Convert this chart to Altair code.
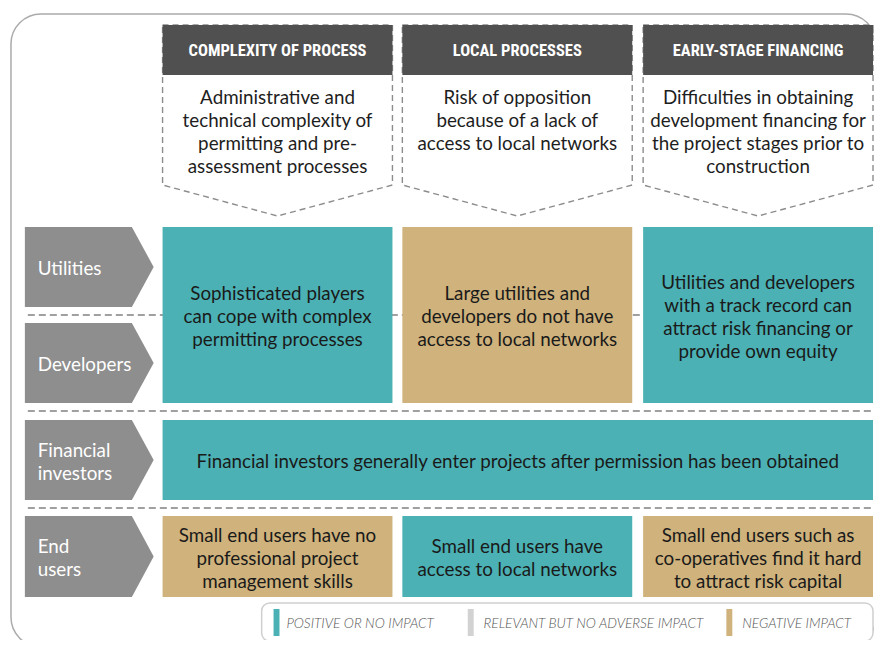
import altair as alt
import pandas as pd

# ---------------- data ----------------
columns = ["COMPLEXITY OF PROCESS", "LOCAL PROCESSES", "EARLY-STAGE FINANCING"]
descriptions = [
    ["Administrative and", "technical complexity of", "permitting and pre-", "assessment processes"],
    ["Risk of opposition", "because of a lack of", "access to local networks"],
    ["Difficulties in obtaining", "development financing for", "the project stages prior to", "construction"],
]
actors = [["Utilities"], ["Developers"], ["Financial", "investors"], ["End", "users"]]

cell_rows = ["utildev", "utildev", "utildev", "fin", "end", "end", "end"]
cell_cols = [(0, 0), (1, 1), (2, 2), (0, 2), (0, 0), (1, 1), (2, 2)]
cell_impacts = ["positive", "negative", "positive", "positive", "negative", "positive", "negative"]
cell_texts = [
    ["Sophisticated players", "can cope with complex", "permitting processes"],
    ["Large utilities and", "developers do not have", "access to local networks"],
    ["Utilities and developers", "with a track record can", "attract risk financing or", "provide own equity"],
    ["Financial investors generally enter projects after permission has been obtained"],
    ["Small end users have no", "professional project", "management skills"],
    ["Small end users have", "access to local networks"],
    ["Small end users such as", "co-operatives find it hard", "to attract risk capital"],
]
impact_keys = ["positive", "relevant", "negative"]
impact_labels = ["POSITIVE OR NO IMPACT", "RELEVANT BUT NO ADVERSE IMPACT", "NEGATIVE IMPACT"]

# ---------------- layout & style ----------------
TEAL, TAN, LIGHT = "#4BB1B4", "#CFB27C", "#D2D2D2"
impact_colors = [TEAL, LIGHT, TAN]
DARK, ARROW = "#505050", "#8E8E8E"
BODY_FONT = "Lato, 'Open Sans', sans-serif"
HEAD_FONT = "'Roboto Condensed', 'DejaVu Sans Condensed', Roboto, sans-serif"
FS = 18.8

col_left = [164, 406, 649]
col_right = [396, 638, 881]
head_top, head_bot, side_bot, tip_y = 25, 75, 185, 216
desc_first, LH = 97.5, 23
actor_top = [227, 323, 420, 516]
actor_bot = [307, 403, 500, 597]
arrow_x0, arrow_body, arrow_tip = 25, 133, 155
row_span = {"utildev": (227, 403), "fin": (420, 500), "end": (516, 597)}
sep_y = [315, 411, 508]
W, H = 866, 632
XS = alt.Scale(domain=[8, 882], nice=False, zero=False)
YS = alt.Scale(domain=[8, 8 + H], nice=False, zero=False, reverse=True)


def X(f="x"):
    return alt.X(f"{f}:Q", scale=XS, axis=None)


def Y(f="y"):
    return alt.Y(f"{f}:Q", scale=YS, axis=None)


# outer frame
frame = alt.Chart(pd.DataFrame({"x": [11], "x2": [884], "y": [14], "y2": [647]})).mark_rect(
    fillOpacity=0, stroke="#ababab", strokeWidth=1.5, cornerRadius=30
).encode(x=X(), x2="x2:Q", y=Y(), y2="y2:Q")

# header dashed pentagons
pent_rows = []
for c, name in enumerate(columns):
    l, r = col_left[c], col_right[c]
    m = (l + r) / 2
    pts = [(l, head_top), (r, head_top), (r, side_bot), (m, tip_y), (l, side_bot), (l, head_top)]
    for i, (px, py) in enumerate(pts):
        pent_rows.append({"col": name, "i": i, "x": px, "y": py})
pent = alt.Chart(pd.DataFrame(pent_rows)).mark_line(
    strokeDash=[6, 4], color="#8c8c8c", strokeWidth=1.4
).encode(x=X(), y=Y(), order="i:Q", detail="col:N")

heads_df = pd.DataFrame({
    "name": columns,
    "x": col_left, "x2": col_right,
    "xc": [(a + b) / 2 for a, b in zip(col_left, col_right)],
    "y": [head_top] * 3, "y2": [head_bot] * 3,
    "yc": [(head_top + head_bot) / 2 + 1] * 3,
})
head_rect = alt.Chart(heads_df).mark_rect(color=DARK).encode(x=X(), x2="x2:Q", y=Y(), y2="y2:Q")
head_text = alt.Chart(heads_df).mark_text(
    color="white", font=HEAD_FONT, fontWeight="bold", fontSize=16.5, baseline="middle", align="center"
).encode(x=X("xc"), y=Y("yc"), text="name:N")

desc_rows = []
for c, lines in enumerate(descriptions):
    for i, t in enumerate(lines):
        desc_rows.append({"x": (col_left[c] + col_right[c]) / 2, "y": desc_first + i * LH, "t": t})
desc_text = alt.Chart(pd.DataFrame(desc_rows)).mark_text(
    color="#1e1e1e", font=BODY_FONT, fontSize=FS, baseline="middle", align="center"
).encode(x=X(), y=Y(), text="t:N")

# dashed separators
sep = alt.Chart(pd.DataFrame({"y": sep_y, "x": [28] * 3, "x2": [881] * 3})).mark_rule(
    strokeDash=[7, 4], color="#a0a0a0", strokeWidth=2
).encode(x=X(), x2="x2:Q", y=Y())

# actor arrows
arrow_rows, label_rows = [], []
for k, lines in enumerate(actors):
    t, b = actor_top[k], actor_bot[k]
    mid = (t + b) / 2
    name = " ".join(lines)
    for px, py, py2 in [(arrow_x0, t, b), (arrow_body, t, b), (arrow_tip, mid, mid)]:
        arrow_rows.append({"a": name, "x": px, "y": py, "y2": py2})
    n = len(lines)
    for i, s in enumerate(lines):
        label_rows.append({"x": 38, "y": mid + (i - (n - 1) / 2) * LH + 2, "t": s})
arrows = alt.Chart(pd.DataFrame(arrow_rows)).mark_area(color=ARROW, opacity=1).encode(
    x=X(), y=Y(), y2="y2:Q", detail="a:N"
)
actor_text = alt.Chart(pd.DataFrame(label_rows)).mark_text(
    color="white", font=BODY_FONT, fontSize=FS, baseline="middle", align="left"
).encode(x=X(), y=Y(), text="t:N")

# cells
cell_rect_rows, cell_text_rows = [], []
for k in range(len(cell_rows)):
    t, b = row_span[cell_rows[k]]
    c0, c1 = cell_cols[k]
    l, r = col_left[c0], col_right[c1]
    cell_rect_rows.append({"x": l, "x2": r, "y": t, "y2": b, "impact": cell_impacts[k]})
    n = len(cell_texts[k])
    for i, s in enumerate(cell_texts[k]):
        cell_text_rows.append({"x": (l + r) / 2, "y": (t + b) / 2 + (i - (n - 1) / 2) * LH + 2, "t": s})
color_scale = alt.Scale(domain=impact_keys, range=impact_colors)
cells = alt.Chart(pd.DataFrame(cell_rect_rows)).mark_rect().encode(
    x=X(), x2="x2:Q", y=Y(), y2="y2:Q",
    color=alt.Color("impact:N", scale=color_scale, legend=None),
)
cell_text = alt.Chart(pd.DataFrame(cell_text_rows)).mark_text(
    color="#1a1a1a", font=BODY_FONT, fontSize=FS, baseline="middle", align="center"
).encode(x=X(), y=Y(), text="t:N")

# legend
leg_box = alt.Chart(pd.DataFrame({"x": [264], "x2": [881], "y": [603], "y2": [641]})).mark_rect(
    fill="white", stroke="#cfcfcf", strokeWidth=1.5, cornerRadius=8
).encode(x=X(), x2="x2:Q", y=Y(), y2="y2:Q")
sw_x = [276, 472, 733]
leg_df = pd.DataFrame({
    "impact": impact_keys, "label": impact_labels,
    "x": sw_x, "x2": [v + 6 for v in sw_x],
    "y": [609] * 3, "y2": [636] * 3,
    "tx": [289, 488, 749], "ty": [624] * 3,
})
leg_sw = alt.Chart(leg_df).mark_rect().encode(
    x=X(), x2="x2:Q", y=Y(), y2="y2:Q",
    color=alt.Color("impact:N", scale=color_scale, legend=None),
)
leg_txt = alt.Chart(leg_df).mark_text(
    color="#555555", font=BODY_FONT, fontSize=13.7, fontStyle="italic", fontWeight=300,
    baseline="middle", align="left"
).encode(x=X("tx"), y=Y("ty"), text="label:N")

chart = alt.layer(
    frame, pent, head_rect, head_text, desc_text, sep, arrows, actor_text,
    cells, cell_text, leg_box, leg_sw, leg_txt
).properties(
    width=W, height=H, padding=0, autosize=alt.AutoSizeParams(type="none"), background="white"
).configure_view(stroke=None)

chart.save("out.html", embed_options={"renderer": "svg", "actions": False})
